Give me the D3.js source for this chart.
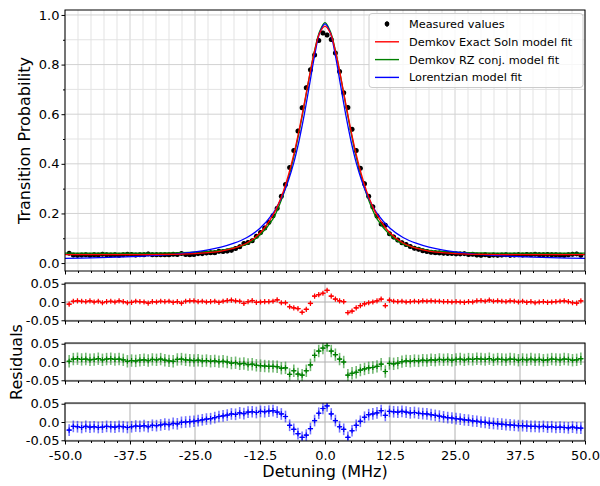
<!DOCTYPE html>
<html><head><meta charset="utf-8">
<script src="https://cdn.jsdelivr.net/npm/d3@7"></script>
<style>body{margin:0;background:#fff} svg{display:block} text{font-family:"DejaVu Sans",sans-serif;fill:#000}</style>
</head><body><svg id="c" width="600" height="486"></svg>
<script>
// ---------- data ----------
const detuning = [
 -49.2,-48.4,-47.6,-46.8,-46.0,-45.2,-44.4,-43.6,-42.8,-42.0,
 -41.2,-40.4,-39.6,-38.8,-38.0,-37.2,-36.4,-35.6,-34.8,-34.0,
 -33.2,-32.4,-31.6,-30.8,-30.0,-29.2,-28.4,-27.6,-26.8,-26.0,
 -25.2,-24.4,-23.6,-22.8,-22.0,-21.2,-20.4,-19.6,-18.8,-18.0,
 -17.2,-16.4,-15.6,-14.8,-14.0,-13.2,-12.4,-11.6,-10.8,-10.0,
 -9.2,-8.4,-7.6,-6.8,-6.0,-5.2,-4.4,-3.6,-2.8,-2.0,
 -1.2,-0.4,0.4,1.2,2.0,2.8,3.6,4.4,5.2,6.0,
 6.8,7.6,8.4,9.2,10.0,10.8,11.6,12.4,13.2,14.0,
 14.8,15.6,16.4,17.2,18.0,18.8,19.6,20.4,21.2,22.0,
 22.8,23.6,24.4,25.2,26.0,26.8,27.6,28.4,29.2,30.0,
 30.8,31.6,32.4,33.2,34.0,34.8,35.6,36.4,37.2,38.0,
 38.8,39.6,40.4,41.2,42.0,42.8,43.6,44.4,45.2,46.0,
 46.8,47.6,48.4,49.2];
const measured = [
 0.040,0.032,0.031,0.032,0.033,0.031,0.034,0.032,0.036,0.033,
 0.032,0.034,0.031,0.033,0.036,0.035,0.032,0.033,0.034,0.037,
 0.033,0.034,0.033,0.034,0.033,0.036,0.035,0.039,0.035,0.034,
 0.035,0.038,0.038,0.041,0.042,0.042,0.048,0.047,0.049,0.052,
 0.059,0.066,0.079,0.083,0.090,0.108,0.123,0.141,0.164,0.191,
 0.221,0.269,0.317,0.385,0.454,0.532,0.626,0.707,0.779,0.839,
 0.897,0.927,0.919,0.901,0.847,0.772,0.686,0.627,0.539,0.454,
 0.382,0.320,0.269,0.227,0.190,0.157,0.152,0.118,0.105,0.093,
 0.082,0.075,0.067,0.060,0.056,0.050,0.047,0.044,0.042,0.041,
 0.040,0.039,0.039,0.037,0.037,0.038,0.035,0.036,0.032,0.031,
 0.033,0.030,0.032,0.031,0.032,0.033,0.031,0.032,0.034,0.032,
 0.035,0.033,0.036,0.034,0.033,0.035,0.034,0.033,0.032,0.031,
 0.033,0.036,0.037,0.031];
const resExact = [
 -0.006,0.002,0.003,0.002,0.001,0.003,0.000,0.002,-0.002,0.001,
 0.002,0.000,0.003,0.001,-0.002,-0.001,0.002,0.001,0.000,-0.003,
 0.001,0.000,0.002,0.001,0.002,-0.001,0.001,-0.003,0.002,0.003,
 0.003,0.001,0.002,0.000,0.001,0.002,-0.001,0.002,0.004,0.005,
 0.003,0.002,-0.004,0.001,0.004,-0.001,0.000,0.001,0.001,0.002,
 0.006,-0.002,-0.002,-0.013,-0.016,-0.018,-0.028,-0.020,-0.004,0.016,
 0.020,0.024,0.032,0.016,0.008,0.003,0.001,-0.029,-0.025,-0.016,
 -0.010,-0.005,-0.002,0.000,0.003,0.008,-0.010,0.005,0.002,0.001,
 0.002,0.000,0.001,0.002,0.001,0.003,0.002,0.003,0.002,0.002,
 0.001,0.001,0.000,0.001,0.000,-0.001,0.001,0.000,0.003,0.004,
 0.002,0.005,0.002,0.003,0.002,0.001,0.003,0.002,0.000,0.002,
 -0.001,0.001,-0.002,0.000,0.001,-0.001,0.000,0.001,0.002,0.003,
 0.001,-0.002,-0.003,0.003];
const resRZ = [
 0.002,0.008,0.009,0.007,0.008,0.006,0.007,0.009,0.006,0.008,
 0.009,0.007,0.008,0.006,0.002,0.004,0.003,0.005,0.006,0.004,
 0.007,0.006,0.008,0.005,0.003,0.002,0.007,0.008,0.006,0.005,
 0.004,0.005,0.003,0.004,0.002,0.003,0.001,0.002,0.000,-0.003,
 -0.002,-0.005,-0.004,-0.007,-0.006,-0.009,-0.010,-0.011,-0.012,-0.012,
 -0.013,-0.017,-0.016,-0.034,-0.024,-0.033,-0.036,-0.024,-0.008,0.018,
 0.030,0.038,0.045,0.030,0.020,0.008,0.000,-0.036,-0.031,-0.028,
 -0.022,-0.019,-0.016,-0.015,-0.012,-0.006,-0.026,-0.004,-0.005,-0.003,
 0.001,0.003,0.002,0.004,0.003,0.005,0.004,0.006,0.005,0.007,
 0.006,0.007,0.005,0.007,0.008,0.006,0.008,0.007,0.009,0.008,
 0.007,0.009,0.006,0.008,0.007,0.006,0.008,0.007,0.005,0.007,
 0.006,0.008,0.006,0.007,0.005,0.006,0.008,0.007,0.006,0.008,
 0.007,0.005,0.006,0.009];
const resLor = [
 -0.022,-0.012,-0.013,-0.015,-0.012,-0.014,-0.013,-0.015,-0.014,-0.012,
 -0.013,-0.014,-0.012,-0.013,-0.015,-0.013,-0.011,-0.012,-0.010,-0.013,
 -0.009,-0.010,-0.008,-0.006,-0.007,-0.004,-0.005,-0.001,0.000,0.001,
 0.002,0.004,0.006,0.008,0.009,0.012,0.015,0.017,0.019,0.022,
 0.021,0.025,0.023,0.027,0.028,0.026,0.029,0.028,0.030,0.031,
 0.027,0.022,0.015,-0.009,-0.020,-0.032,-0.042,-0.036,-0.018,0.004,
 0.024,0.037,0.044,0.022,0.004,-0.013,-0.020,-0.042,-0.024,-0.009,
 0.002,0.013,0.020,0.022,0.025,0.031,0.018,0.029,0.028,0.027,
 0.029,0.027,0.025,0.026,0.024,0.023,0.022,0.020,0.018,0.016,
 0.014,0.012,0.011,0.009,0.008,0.006,0.005,0.003,0.002,0.000,
 -0.001,-0.003,-0.004,-0.005,-0.006,-0.007,-0.008,-0.009,-0.010,-0.010,
 -0.011,-0.012,-0.012,-0.013,-0.012,-0.014,-0.013,-0.015,-0.014,-0.015,
 -0.016,-0.014,-0.016,-0.017];
const curveX = [-50,-45,-40,-35,-30,-27.5,-25,-22.5,-20,-17.5,-15,-12.5,-10,-9,-8,-7,-6,-5,-4,-3,-2,-1,
 0,1,2,3,4,5,6,7,8,9,10,12.5,15,17.5,20,22.5,25,27.5,30,35,40,45,50];
const fitExact = [0.034,0.034,0.034,0.034,0.035,0.036,0.038,0.042,0.048,0.060,0.081,0.121,0.193,0.236,0.290,0.357,0.438,0.534,0.642,0.753,0.855,0.928,
 0.955,0.928,0.855,0.753,0.642,0.534,0.438,0.357,0.290,0.236,0.193,0.121,0.081,0.060,0.048,0.042,0.038,0.036,0.035,0.034,0.034,0.034,0.034];
const fitRZ = [0.040,0.040,0.040,0.040,0.041,0.042,0.044,0.047,0.051,0.062,0.076,0.113,0.178,0.222,0.277,0.345,0.428,0.526,0.636,0.750,0.857,0.935,
 0.969,0.935,0.857,0.750,0.636,0.526,0.428,0.345,0.277,0.222,0.178,0.113,0.076,0.062,0.051,0.047,0.044,0.042,0.041,0.040,0.040,0.040,0.040];
const fitLor = [0.019,0.021,0.024,0.028,0.034,0.039,0.045,0.053,0.064,0.080,0.103,0.140,0.200,0.236,0.280,0.336,0.405,0.492,0.597,0.716,0.836,0.929,
 0.964,0.929,0.836,0.716,0.597,0.492,0.405,0.336,0.280,0.236,0.200,0.140,0.103,0.080,0.064,0.053,0.045,0.039,0.034,0.028,0.024,0.021,0.019];
const xTicks = [-50,-37.5,-25,-12.5,0,12.5,25,37.5,50];
const xTickLabels = ["-50.0","-37.5","-25.0","-12.5","0.0","12.5","25.0","37.5","50.0"];
const yTicks = [0,0.2,0.4,0.6,0.8,1.0];
const yTickLabels = ["0.0","0.2","0.4","0.6","0.8","1.0"];
const resTicks = [-0.05,0,0.05];
const resTickLabels = ["-0.05","0.0","0.05"];
const seriesNames = ["Measured values","Demkov Exact Soln model fit","Demkov RZ conj. model fit","Lorentzian model fit"];
const seriesColors = ["#000000","#ff0000","#008000","#0000ff"];
const resErr = [0.004, 0.017, 0.016];
const xErr = 0.45;

// ---------- layout ----------
const L = 65, R = 585;
const svg = d3.select("#c");
const x = d3.scaleLinear().domain([-50, 50]).range([L, R]);
const yM = d3.scaleLinear().domain([-0.032, 1.02]).range([271, 10]);
const xMinor = d3.range(-50, 50.001, 2.5);
const yMinor = d3.range(0, 1.0001, 0.1);

const defs = svg.append("defs");
function clip(id, y0, y1) {
  defs.append("clipPath").attr("id", id).append("rect")
    .attr("x", L).attr("y", y0).attr("width", R - L).attr("height", y1 - y0);
}

// ---------- main panel ----------
clip("cm", 10, 271);
const gm = svg.append("g");
gm.selectAll(".vg").data(xMinor).join("line")
  .attr("x1", d => x(d)).attr("x2", d => x(d)).attr("y1", 10).attr("y2", 271)
  .attr("stroke", d => xTicks.some(t => Math.abs(t - d) < 1e-6) ? "#d2d2d2" : "#e3e3e3").attr("stroke-width", 1);
gm.selectAll(".hg").data(yMinor).join("line")
  .attr("x1", L).attr("x2", R).attr("y1", d => yM(d)).attr("y2", d => yM(d))
  .attr("stroke", d => yTicks.some(t => Math.abs(t - d) < 1e-6) ? "#d2d2d2" : "#e3e3e3").attr("stroke-width", 1);

const content = gm.append("g").attr("clip-path", "url(#cm)");
const pts = detuning.map((d, i) => ({x: d, y: measured[i]}));
content.selectAll(".eb").data(pts).join("line")
  .attr("x1", d => x(d.x)).attr("x2", d => x(d.x))
  .attr("y1", d => yM(d.y - 0.009)).attr("y2", d => yM(d.y + 0.009))
  .attr("stroke", "#000").attr("stroke-width", 1.2);
content.selectAll(".pt").data(pts).join("circle")
  .attr("cx", d => x(d.x)).attr("cy", d => yM(d.y)).attr("r", 2.5).attr("fill", "#000");

const line = d3.line().x(d => x(d.x)).y(d => yM(d.y)).curve(d3.curveCatmullRom);
[[fitRZ, seriesColors[2]], [fitLor, seriesColors[3]], [fitExact, seriesColors[1]]].forEach(([arr, col]) => {
  content.append("path").datum(curveX.map((c, i) => ({x: c, y: arr[i]})))
    .attr("d", line).attr("fill", "none").attr("stroke", col).attr("stroke-width", 1.3);
});

gm.append("rect").attr("x", L).attr("y", 10).attr("width", R - L).attr("height", 261)
  .attr("fill", "none").attr("stroke", "#000").attr("stroke-width", 1);

function styleAxis(g) {
  g.select(".domain").remove();
  g.selectAll(".tick line").attr("stroke", "#000").attr("stroke-width", 1);
  g.selectAll("text").attr("font-size", 13).attr("font-family", "DejaVu Sans");
}
svg.append("g").attr("transform", `translate(${L},0)`)
  .call(d3.axisLeft(yM).tickValues(yTicks).tickFormat((d, i) => yTickLabels[i]).tickSize(3.5).tickPadding(2)).call(styleAxis);
svg.append("g").attr("transform", `translate(${L},0)`)
  .call(d3.axisLeft(yM).tickValues(yMinor.filter(v => !yTicks.some(t => Math.abs(t - v) < 1e-6))).tickFormat("").tickSize(2)).call(styleAxis);
function bottomTicks(yPos, labels) {
  svg.append("g").attr("transform", `translate(0,${yPos})`)
    .call(d3.axisBottom(x).tickValues(xTicks).tickFormat(labels ? (d, i) => xTickLabels[i] : "").tickSize(3.5).tickPadding(6)).call(styleAxis);
  svg.append("g").attr("transform", `translate(0,${yPos})`)
    .call(d3.axisBottom(x).tickValues(xMinor.filter(v => !xTicks.some(t => Math.abs(t - v) < 1e-6))).tickFormat("").tickSize(2)).call(styleAxis);
}
bottomTicks(271, false);

// legend
const lg = svg.append("g");
lg.append("rect").attr("x", 369).attr("y", 13.5).attr("width", 214).attr("height", 74).attr("rx", 3)
  .attr("fill", "#fff").attr("fill-opacity", 0.8).attr("stroke", "#cccccc").attr("stroke-width", 1);
seriesNames.forEach((name, i) => {
  const yy = 24 + i * 17.8;
  if (i === 0) {
    lg.append("circle").attr("cx", 387).attr("cy", yy).attr("r", 2.4).attr("fill", "#000");
    lg.append("line").attr("x1", 387).attr("x2", 387).attr("y1", yy - 3).attr("y2", yy + 3).attr("stroke", "#000");
  } else {
    lg.append("line").attr("x1", 375).attr("x2", 399).attr("y1", yy).attr("y2", yy)
      .attr("stroke", seriesColors[i]).attr("stroke-width", 1.4);
  }
  lg.append("text").attr("x", 409).attr("y", yy).attr("dy", "0.36em").attr("font-size", 11.3).text(name);
});

// ---------- residual panels ----------
const panels = [
  {top: 283, bot: 321, res: resExact, color: seriesColors[1], err: resErr[0], barOp: 0.5},
  {top: 343, bot: 381, res: resRZ, color: seriesColors[2], err: resErr[1], barOp: 0.55},
  {top: 403, bot: 441, res: resLor, color: seriesColors[3], err: resErr[2], barOp: 0.55}
];
panels.forEach((p, k) => {
  const y = d3.scaleLinear().domain([-0.052, 0.052]).range([p.bot, p.top]);
  const id = "cr" + k;
  clip(id, p.top, p.bot);
  const g = svg.append("g");
  g.selectAll(".vg").data(xTicks).join("line")
    .attr("x1", d => x(d)).attr("x2", d => x(d)).attr("y1", p.top).attr("y2", p.bot)
    .attr("stroke", "#b0b0b0").attr("stroke-width", 1);
  g.selectAll(".hg").data(resTicks).join("line")
    .attr("x1", L).attr("x2", R).attr("y1", d => y(d)).attr("y2", d => y(d))
    .attr("stroke", "#b0b0b0").attr("stroke-width", 1);
  const c = g.append("g").attr("clip-path", `url(#${id})`);
  const rp = detuning.map((d, i) => ({x: d, y: p.res[i]}));
  c.selectAll(".ev").data(rp).join("line")
    .attr("x1", d => x(d.x)).attr("x2", d => x(d.x))
    .attr("y1", d => y(d.y - p.err)).attr("y2", d => y(d.y + p.err))
    .attr("stroke", p.color).attr("stroke-opacity", p.barOp).attr("stroke-width", 1.6);
  c.selectAll(".eh").data(rp).join("line")
    .attr("x1", d => x(d.x - xErr)).attr("x2", d => x(d.x + xErr))
    .attr("y1", d => y(d.y)).attr("y2", d => y(d.y))
    .attr("stroke", p.color).attr("stroke-width", 1.2);
  c.selectAll(".mk").data(rp).join("path")
    .attr("d", d => `M${x(d.x)},${y(d.y) - 2.6}V${y(d.y) + 2.6}M${x(d.x) - 2.6},${y(d.y)}H${x(d.x) + 2.6}`)
    .attr("stroke", p.color).attr("stroke-width", 1.2).attr("fill", "none");
  g.append("rect").attr("x", L).attr("y", p.top).attr("width", R - L).attr("height", p.bot - p.top)
    .attr("fill", "none").attr("stroke", "#000").attr("stroke-width", 1);
  svg.append("g").attr("transform", `translate(${L},0)`)
    .call(d3.axisLeft(y).tickValues(resTicks).tickFormat((d, i) => resTickLabels[i]).tickSize(3.5).tickPadding(2)).call(styleAxis);
  bottomTicks(p.bot, k === 2);
});

// ---------- axis titles ----------
svg.append("text").attr("transform", "translate(30,140.5) rotate(-90)").attr("text-anchor", "middle")
  .attr("font-size", 16).text("Transition Probability");
svg.append("text").attr("transform", "translate(21.5,362) rotate(-90)").attr("text-anchor", "middle")
  .attr("font-size", 16).text("Residuals");
svg.append("text").attr("x", 325).attr("y", 477).attr("text-anchor", "middle")
  .attr("font-size", 16).text("Detuning (MHz)");
</script></body></html>
